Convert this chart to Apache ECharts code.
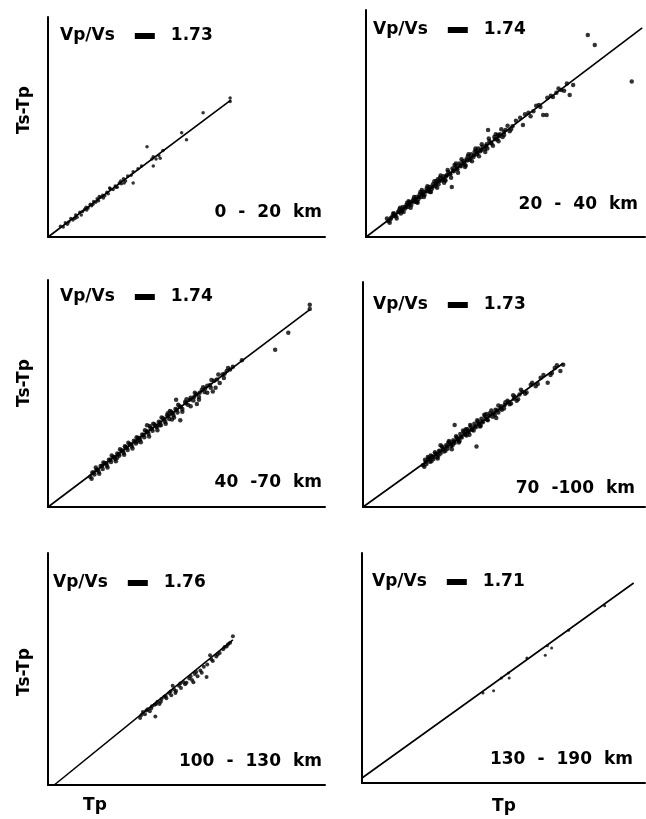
<!DOCTYPE html>
<html>
<head>
<meta charset="utf-8">
<script src="https://cdn.jsdelivr.net/npm/echarts@6/dist/echarts.min.js"></script>
<style>html,body{margin:0;padding:0;background:#fff;}#c{width:646px;height:819px;}</style>
</head>
<body>
<div id="c"></div>
<script>
// ---- data (Tp, Ts-Tp) ----
var depthLabels = ['0 - 20 km', '20 - 40 km', '40 -70 km', '70 -100 km', '100 - 130 km', '130 - 190 km'];
var ratioLabels = ['1.73', '1.74', '1.74', '1.73', '1.76', '1.71'];
var xMax = [40, 40, 40, 40, 40, 40];
var yMax = [31, 31.8, 32.2, 32.4, 31.8, 32.2];

var fit1 = [[0, 0], [26.4, 19.3]];
var fit2 = [[0, 0], [39.6, 29.3]];
var fit3 = [[0, 0], [37.8, 28.0]];
var fit4 = [[0, 0], [28.4, 20.7]];
var fit5 = [[0.9, 0], [26.7, 19.9]];
var fit6 = [[0, 0.7], [38.4, 28.0]];

var pts1 = [[1.8,1.5],[2.2,1.4],[2.5,2.0],[3.0,2.1],[3.3,2.6],[3.6,2.4],[4.0,3.1],[4.2,2.8],[4.6,3.5],[5.0,3.6],[5.3,3.9],[5.5,4.2],[5.8,4.1],[6.1,4.6],[6.3,4.4],[6.6,5.0],[6.9,4.9],[7.1,5.4],[7.3,5.1],[7.6,5.6],[7.9,5.9],[8.2,5.8],[8.5,6.3],[8.7,6.1],[9.0,6.8],[9.4,6.7],[9.7,7.2],[10.0,7.0],[10.3,7.6],[10.6,7.5],[10.9,8.2],[11.2,7.9],[11.5,8.6],[12.3,9.2],[12.3,7.6],[13.0,9.6],[14.3,12.7],[15.2,11.3],[15.2,10.0],[15.6,11.0],[16.2,11.1],[16.6,12.2],[19.3,14.7],[20.0,13.7],[22.4,17.5],[26.3,19.6],[26.3,19.1],
  [2.8,1.8],[3.9,2.6],[4.8,3.1],[5.6,3.8],[6.5,4.6],[7.4,5.7],[8.0,5.5],[8.9,6.9],[9.8,7.0],[10.5,7.9],[11.0,7.6],[12.0,8.7],[13.5,10.0],[15.0,11.0],[16.0,11.5]];

var pts2 = [[3.0,2.6],[3.2,2.2],[3.5,2.5],[3.8,2.9],[4.0,3.3],[4.3,2.9],[4.6,3.5],[4.8,3.9],[5.1,3.6],[5.3,4.2],[5.6,4.0],[5.8,4.5],[6.0,4.2],[6.3,4.9],[6.5,4.5],[6.8,5.3],[7.0,4.9],[7.2,5.6],[7.5,5.3],[7.7,6.0],[7.9,5.6],[8.2,6.3],[8.4,5.9],[8.7,6.8],[8.9,6.4],[9.1,7.0],[9.4,6.7],[9.6,7.4],[9.9,7.1],[10.1,7.8],[10.4,7.4],[10.6,8.3],[10.9,7.9],[11.1,8.5],[11.3,8.0],[11.6,8.7],[12.3,7.0],[11.8,9.1],[12.1,8.8],[12.4,9.6],[12.6,9.2],[12.9,9.9],[13.1,9.5],[13.4,10.3],[13.6,9.9],[13.9,10.6],[14.1,10.2],[14.4,10.9],[14.6,11.3],[14.9,10.8],[15.1,11.6],[15.4,11.2],[15.6,12.0],[15.9,11.6],[16.1,12.4],[16.4,12.0],[16.7,12.6],[17.0,12.3],[17.5,15.0],[17.3,13.0],[17.7,13.4],[18.0,13.1],[18.4,14.0],[18.8,13.7],[19.2,14.4],[19.6,14.0],[20.0,15.0],[20.6,14.8],[21.0,15.5],[22.1,16.7],[22.5,15.7],[23.3,17.4],[24.0,17.6],[24.8,18.5],[25.4,17.1],[25.9,17.1],[26.5,19.8],[27.3,20.2],[28.0,20.6],[28.8,21.5],[29.2,19.9],[29.7,21.3],[31.8,28.3],[32.8,26.9],[38.1,21.8],
  [3.4,2.0],[3.9,3.3],[4.4,2.6],[4.9,4.1],[5.4,3.5],[5.9,4.8],[6.4,4.1],[6.9,5.6],[7.4,4.8],[7.8,6.3],[8.3,5.6],[8.8,7.1],[9.3,6.3],[9.8,7.8],[10.2,6.9],[10.7,8.6],[11.2,7.6],[11.7,9.4],[12.2,8.3],[12.7,10.1],[13.2,9.0],[13.7,10.9],[14.2,9.8],[14.7,11.6],[15.2,10.6],[15.7,12.4],[16.2,11.3],[16.6,13.0],[17.1,11.9],[17.6,13.8],[18.2,12.8],[18.6,14.4],[19.0,13.4],[19.4,15.1],[19.8,14.3],[20.3,15.6],[20.8,15.1],[21.5,16.3],[22.8,17.2],[23.6,16.9],[24.4,18.4],[25.0,18.2],[26.0,19.5],[26.8,19.6],[27.6,20.8],[28.4,20.5],
  [3.6,2.7],[4.1,3.0],[4.7,3.5],[5.2,3.8],[5.7,4.2],[6.2,4.6],[6.7,5.0],[7.1,5.2],[7.6,5.6],[8.1,6.0],[8.6,6.4],[9.0,6.7],[9.5,7.0],[10.0,7.4],[10.5,7.8],[11.0,8.1],[11.5,8.5],[12.0,8.9],[12.5,9.3],[13.0,9.6],[13.5,10.0],[14.0,10.4],[14.5,10.7],[15.0,11.1],[15.5,11.5],[16.0,11.8],[16.5,12.2],[17.2,12.7],[17.9,13.2],[18.5,13.7],[19.1,14.1],[19.8,14.7],[5.0,3.3],[6.1,5.0],[7.3,4.9],[8.0,6.6],[9.2,6.3],[10.3,8.1],[11.4,7.9],[12.9,10.3],[14.3,10.0],[15.8,12.1],[17.4,12.4],[18.9,14.3]];

var pts3 = [[6.1,4.3],[6.4,4.9],[6.7,4.6],[7.0,5.3],[7.3,5.0],[7.6,5.8],[7.9,5.4],[8.2,6.2],[8.5,5.9],[8.8,6.7],[9.1,6.4],[9.4,7.1],[9.7,6.8],[10.0,7.6],[10.3,7.3],[10.6,8.0],[10.9,7.7],[11.2,8.5],[11.5,8.1],[11.8,8.9],[12.1,8.6],[12.4,9.4],[12.7,9.0],[13.0,9.8],[13.3,9.5],[13.6,10.3],[13.9,9.9],[14.3,11.6],[14.2,10.7],[14.5,10.4],[14.8,11.2],[15.1,10.8],[15.4,11.7],[15.7,11.3],[16.0,12.1],[16.3,11.6],[16.6,12.6],[16.9,12.1],[17.2,13.0],[17.5,12.5],[17.8,13.5],[18.1,13.0],[18.4,13.9],[18.7,13.4],[19.1,12.3],[19.0,14.3],[19.4,13.9],[19.8,14.9],[20.2,14.5],[20.6,15.5],[21.0,15.1],[21.4,16.0],[21.8,15.6],[22.2,16.6],[22.6,16.3],[23.0,17.2],[23.5,16.9],[24.0,17.9],[24.8,17.6],[25.2,18.8],[25.8,19.3],[26.3,19.5],[26.7,19.9],[28.0,20.8],[32.8,22.3],[34.7,24.7],[37.8,28.7],[37.8,28.1],
  [6.3,4.0],[6.9,5.6],[7.4,4.7],[8.0,6.3],[8.6,5.6],[9.2,7.3],[9.8,6.5],[10.4,8.2],[11.0,7.4],[11.6,9.1],[12.2,8.3],[12.8,9.9],[13.4,9.2],[14.0,10.9],[14.6,10.0],[15.2,11.8],[15.8,10.9],[16.4,12.7],[17.0,11.8],[17.6,13.6],[18.2,12.7],[18.8,14.5],[19.4,13.5],[20.0,15.3],[20.6,14.3],[21.2,16.2],[21.8,15.2],[22.4,17.0],[23.0,16.2],[23.6,18.0],[24.2,16.9],[24.6,18.8],[25.4,18.3],[26.0,19.7],[21.5,14.6],[17.9,12.4],[18.5,15.2],[23.8,16.4],
  [6.6,4.9],[7.2,5.3],[7.8,5.8],[8.4,6.2],[9.0,6.7],[9.6,7.1],[10.2,7.5],[10.8,8.0],[11.4,8.4],[12.0,8.9],[12.6,9.3],[13.2,9.8],[13.8,10.2],[14.4,10.7],[15.0,11.1],[15.6,11.5],[16.2,12.0],[16.8,12.4],[17.4,12.9],[18.0,13.3],[18.6,13.8],[19.2,14.2],[19.9,14.7],[20.5,15.2],[21.1,15.6],[21.9,16.2],[22.7,16.8],[23.4,17.3],[24.4,18.1],[25.5,18.9],[10.0,7.0],[11.1,8.6],[12.9,9.3],[14.7,11.5],[16.1,11.6],[17.3,13.3]];

var pts4 = [[8.5,6.0],[8.8,6.8],[9.0,6.2],[9.3,7.0],[9.5,6.5],[9.8,7.3],[10.0,6.9],[10.3,7.7],[10.5,7.2],[10.8,8.1],[11.0,7.7],[11.3,8.5],[11.5,8.0],[11.8,8.9],[12.0,8.4],[12.3,9.3],[12.5,8.8],[12.8,9.6],[13.0,11.8],[13.0,9.2],[13.3,10.0],[13.5,9.6],[13.8,10.5],[14.0,10.0],[14.3,10.8],[14.5,10.4],[14.8,11.2],[15.0,10.8],[15.3,11.6],[15.5,11.1],[15.8,12.0],[16.1,8.7],[16.0,11.5],[16.3,12.3],[16.5,11.9],[16.8,12.7],[17.0,12.2],[17.3,13.1],[17.6,12.6],[18.0,13.5],[18.4,13.0],[18.8,14.0],[19.2,13.6],[19.6,14.5],[20.0,14.2],[20.5,15.3],[21.0,14.9],[21.5,15.9],[22.0,15.5],[22.6,16.6],[23.2,16.5],[23.8,17.6],[24.5,17.4],[25.2,18.6],[26.2,17.9],[26.8,19.3],[27.5,20.4],[28.0,19.6],[28.4,20.5],
  [8.7,5.8],[9.2,7.2],[9.7,6.6],[10.2,7.9],[10.7,7.4],[11.2,8.7],[11.7,8.1],[12.2,9.5],[12.7,8.9],[13.2,10.2],[13.7,9.5],[14.2,11.0],[14.7,10.3],[15.2,11.8],[15.7,11.0],[16.2,12.5],[16.7,11.7],[17.2,13.3],[17.7,12.5],[18.2,13.9],[18.7,13.3],[19.2,14.6],[19.7,14.0],[20.2,15.1],[20.8,14.8],[21.3,16.1],[21.8,15.3],[22.4,16.9],[23.0,16.3],[24.0,17.9],[24.8,17.7],[25.6,19.0],[26.6,19.0],[27.2,20.0],[11.0,8.9],[12.6,8.3],[15.1,10.4],[18.9,12.8],
  [8.9,6.5],[9.4,6.9],[9.9,7.2],[10.4,7.6],[10.9,8.0],[11.4,8.3],[11.9,8.7],[12.4,9.1],[12.9,9.4],[13.4,9.8],[13.9,10.1],[14.4,10.5],[14.9,10.9],[15.4,11.2],[15.9,11.6],[16.4,12.0],[16.9,12.3],[17.4,12.7],[17.9,13.1],[18.5,13.5],[19.0,13.9],[19.5,14.2],[20.1,14.7],[20.7,15.1],[21.4,15.6],[22.2,16.2],[9.6,7.4],[10.6,7.0],[12.1,9.3],[13.6,9.3],[14.6,11.2],[16.6,11.6],[17.5,13.4]];

var pts5 = [[13.3,9.2],[13.7,10.0],[14.0,9.7],[14.4,10.4],[14.7,10.1],[15.0,10.8],[15.5,9.4],[15.4,11.0],[15.8,11.4],[16.1,11.1],[16.4,11.8],[16.8,12.1],[17.1,11.9],[17.5,12.6],[17.8,12.3],[18.2,13.1],[18.5,12.9],[18.9,13.6],[19.2,13.3],[19.6,14.1],[20.0,14.0],[20.4,14.6],[20.8,14.4],[21.2,15.2],[21.6,14.9],[22.0,15.7],[22.9,14.8],[22.5,16.2],[23.0,16.5],[23.4,17.8],[23.8,17.0],[24.3,17.6],[24.8,18.1],[25.3,18.6],[25.8,19.0],[26.3,19.5],[26.7,20.4],
  [13.5,9.6],[14.2,10.2],[14.9,10.5],[15.6,11.1],[16.3,11.4],[17.0,12.2],[17.7,12.8],[18.4,12.6],[19.1,13.9],[19.8,13.8],[20.6,14.9],[21.4,15.5],[22.2,15.4],[23.6,17.2],[24.5,17.9],[25.5,18.9],[26.0,19.3],[18.0,13.6],[21.0,14.1]];

var pts6 = [[17.1,12.6],[18.6,12.9],[19.7,14.7],[20.7,15.4],[20.8,14.7],[23.3,17.5],[25.9,17.9],[26.2,19.2],[26.8,18.9],[29.2,21.4],[34.3,24.8]];

// ---- layout ----
var FONT = '"DejaVu Sans", "Liberation Sans", sans-serif';
var grids = [
  {left: 48, top: 17, width: 277, height: 220},
  {left: 366, top: 10, width: 279, height: 227},
  {left: 48, top: 280, width: 277, height: 227},
  {left: 363, top: 282, width: 282, height: 225},
  {left: 48, top: 553, width: 277, height: 232},
  {left: 362, top: 553, width: 283, height: 230}
];
var symbolSizes = [3.5, 4.5, 4.5, 4.5, 4, 3];
var ratioPos = [[60, 36], [373, 30], [60, 297], [373, 305], [53, 583], [372, 582]];
var depthPos = [[322, 213], [638, 205], [322, 483], [635, 489], [322, 762], [633, 760]];
var fits = [fit1, fit2, fit3, fit4, fit5, fit6];
var pts = [pts1, pts2, pts3, pts4, pts5, pts6];

var txt = {fontFamily: FONT, fontWeight: 'bold', fontSize: 17, fill: '#000', color: '#000'};
function spacedRich(label) {
  return label.split(' ').map(function (w) { return '{t|' + w + '}'; }).join('{g|}');
}

var xAxes = [], yAxes = [], series = [], graphic = [];
var axisLine = {show: true, onZero: false, lineStyle: {color: '#000', width: 2}};
for (var i = 0; i < 6; i++) {
  xAxes.push({gridIndex: i, type: 'value', min: 0, max: xMax[i], axisLine: axisLine,
    axisTick: {show: false}, axisLabel: {show: false}, splitLine: {show: false}});
  yAxes.push({gridIndex: i, type: 'value', min: 0, max: yMax[i], axisLine: axisLine,
    axisTick: {show: false}, axisLabel: {show: false}, splitLine: {show: false}});
  series.push({type: 'line', xAxisIndex: i, yAxisIndex: i, data: fits[i], showSymbol: false,
    lineStyle: {color: '#000', width: 1.6}, silent: true, animation: false});
  series.push({type: 'scatter', xAxisIndex: i, yAxisIndex: i, data: pts[i], symbolSize: symbolSizes[i],
    itemStyle: {color: '#000'}, silent: true, animation: false});
  graphic.push({type: 'text', x: ratioPos[i][0], y: ratioPos[i][1], style: {
    text: '{t|Vp/Vs}{s1|}{b|}{s2|}{t|' + ratioLabels[i] + '}', verticalAlign: 'middle', align: 'left',
    rich: {
      t: txt,
      s1: {width: 20, height: 6},
      s2: {width: 16, height: 6},
      b: {width: 20, height: 6, backgroundColor: '#000'}
    }}});
  graphic.push({type: 'text', x: depthPos[i][0], y: depthPos[i][1], style: {
    text: spacedRich(depthLabels[i]), align: 'right', verticalAlign: 'middle',
    rich: {t: txt, g: {width: 12, height: 6}}}});
}
var tsPos = [[25, 110], [25, 383], [25, 672]];
tsPos.forEach(function (p) {
  graphic.push({type: 'text', x: p[0], y: p[1], rotation: Math.PI / 2, style: {
    text: 'Ts-Tp', font: 'bold 17px ' + FONT, fill: '#000', align: 'center', verticalAlign: 'middle'}});
});
[[95, 806], [504, 807]].forEach(function (p) {
  graphic.push({type: 'text', x: p[0], y: p[1], style: {
    text: 'Tp', font: 'bold 17px ' + FONT, fill: '#000', align: 'center', verticalAlign: 'middle'}});
});

var chart = echarts.init(document.getElementById('c'), null, {renderer: 'canvas'});
chart.setOption({
  animation: false,
  backgroundColor: '#fff',
  grid: grids,
  xAxis: xAxes,
  yAxis: yAxes,
  series: series,
  graphic: graphic
});
</script>
</body>
</html>
